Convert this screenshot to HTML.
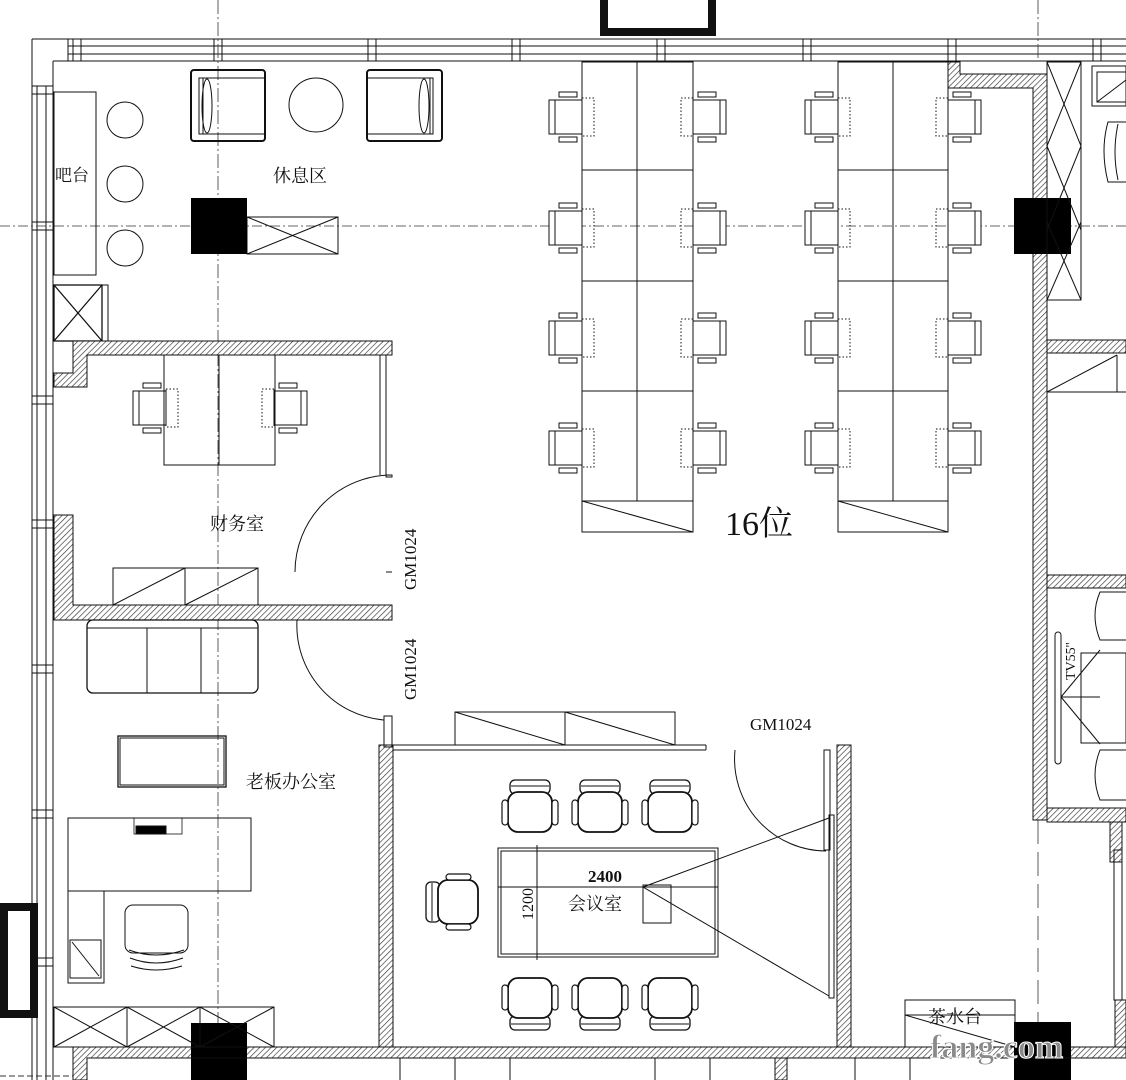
<!DOCTYPE html>
<html><head><meta charset="utf-8"><style>
html,body{margin:0;padding:0;background:#fff;}
svg{display:block;}
text{font-family:"Liberation Serif","Noto Serif CJK SC","Noto Sans CJK SC",serif;fill:#111;}
</style></head><body>
<svg width="1126" height="1080" viewBox="0 0 1126 1080" xmlns="http://www.w3.org/2000/svg">
<defs>
<pattern id="h" width="4" height="4" patternUnits="userSpaceOnUse" patternTransform="rotate(45)">
<rect width="4" height="4" fill="#fff"/><line x1="0" y1="0" x2="0" y2="4" stroke="#333" stroke-width="1.3"/>
</pattern>
<g id="chL">
<rect x="0" y="8" width="6" height="34" fill="#fff" stroke="#111" stroke-width="1"/>
<rect x="6" y="8" width="27" height="34" fill="#fff" stroke="#111" stroke-width="1"/>
<rect x="10" y="0" width="18" height="5" fill="#fff" stroke="#111"/>
<rect x="10" y="45" width="18" height="5" fill="#fff" stroke="#111"/>
<rect x="33" y="6" width="12" height="38" fill="none" stroke="#111" stroke-dasharray="1.5 2"/>
</g>
<g id="mc">
<rect x="8" y="0" width="40" height="14" rx="5" fill="#fff" stroke="#111" stroke-width="1.3"/>
<line x1="9" y1="6" x2="47" y2="6" stroke="#111"/>
<rect x="6" y="12" width="44" height="40" rx="10" fill="#fff" stroke="#111" stroke-width="1.8"/>
<rect x="0" y="20" width="6" height="25" rx="3" fill="#fff" stroke="#111" stroke-width="1.2"/>
<rect x="50" y="20" width="6" height="25" rx="3" fill="#fff" stroke="#111" stroke-width="1.2"/>
</g>
</defs>
<g fill="none" stroke="#111" stroke-width="1">
<rect x="604" y="-6" width="108" height="38" stroke-width="8"/>
<rect x="4" y="907" width="30" height="107" stroke-width="8"/>
<line x1="32" y1="39" x2="1126" y2="39"/><line x1="68" y1="46" x2="1126" y2="46"/>
<line x1="68" y1="54" x2="1126" y2="54"/><line x1="53" y1="61" x2="1126" y2="61"/>
<line x1="68" y1="39" x2="68" y2="61"/>
<g stroke-width="1">
<rect x="73" y="39" width="8" height="22"/><rect x="214" y="39" width="8" height="22"/>
<rect x="368" y="39" width="8" height="22"/><rect x="512" y="39" width="8" height="22"/>
<rect x="657" y="39" width="8" height="22"/><rect x="803" y="39" width="8" height="22"/>
<rect x="948" y="39" width="8" height="22"/><rect x="1093" y="39" width="8" height="22"/>
</g>
<line x1="32" y1="39" x2="32" y2="1080"/><line x1="37" y1="86" x2="37" y2="1080"/>
<line x1="46" y1="86" x2="46" y2="1080"/><line x1="53" y1="61" x2="53" y2="1080"/>
<line x1="32" y1="86" x2="53" y2="86"/><line x1="32" y1="94" x2="53" y2="94"/>
<line x1="32" y1="222" x2="53" y2="222"/><line x1="32" y1="230" x2="53" y2="230"/>
<line x1="32" y1="396" x2="53" y2="396"/><line x1="32" y1="404" x2="53" y2="404"/>
<line x1="32" y1="520" x2="53" y2="520"/><line x1="32" y1="528" x2="53" y2="528"/>
<line x1="32" y1="665" x2="53" y2="665"/><line x1="32" y1="673" x2="53" y2="673"/>
<line x1="32" y1="810" x2="53" y2="810"/><line x1="32" y1="818" x2="53" y2="818"/>
<line x1="32" y1="958" x2="53" y2="958"/><line x1="32" y1="966" x2="53" y2="966"/>
<line x1="0" y1="226" x2="1126" y2="226" stroke="#333" stroke-dasharray="10 3 2 3" stroke-width="0.8"/>
<line x1="218" y1="0" x2="218" y2="1080" stroke="#333" stroke-dasharray="14 3 2 3" stroke-width="0.8"/>
<line x1="1038" y1="0" x2="1038" y2="60" stroke="#333" stroke-dasharray="14 3 2 3" stroke-width="0.8"/>
<line x1="1038" y1="820" x2="1038" y2="1040" stroke="#333" stroke-dasharray="24 8" stroke-width="0.8"/>
<line x1="0" y1="1076" x2="80" y2="1076" stroke="#333" stroke-dasharray="6 3"/>
<rect x="54" y="92" width="42" height="183"/>
<circle cx="125" cy="120" r="18"/><circle cx="125" cy="184" r="18"/><circle cx="125" cy="248" r="18"/>
<rect x="54" y="285" width="48" height="56" stroke-width="1.3"/><line x1="54" y1="285" x2="102" y2="341" stroke-width="1.3"/><line x1="102" y1="285" x2="54" y2="341" stroke-width="1.3"/>
<rect x="102" y="285" width="6" height="56"/>
<rect x="191" y="70" width="74" height="71" rx="3" stroke-width="2"/><rect x="199" y="78" width="66" height="56"/><ellipse cx="207" cy="106" rx="5" ry="27"/><line x1="203" y1="78" x2="203" y2="134"/>
<rect x="367" y="70" width="75" height="71" rx="3" stroke-width="2"/><rect x="367" y="78" width="66" height="56"/><ellipse cx="424" cy="106" rx="5" ry="27"/><line x1="430" y1="78" x2="430" y2="134"/>
<circle cx="316" cy="105" r="27"/>
<rect x="247" y="217" width="91" height="37"/><line x1="247" y1="217" x2="338" y2="254"/><line x1="338" y1="217" x2="247" y2="254"/>
<g>
<rect x="582" y="62" width="111" height="439"/><line x1="637" y1="62" x2="637" y2="501"/>
<line x1="582" y1="170" x2="693" y2="170"/><line x1="582" y1="281" x2="693" y2="281"/><line x1="582" y1="391" x2="693" y2="391"/>
<rect x="582" y="501" width="111" height="31"/><line x1="582" y1="501" x2="693" y2="532"/>
<rect x="838" y="62" width="110" height="439"/><line x1="893" y1="62" x2="893" y2="501"/>
<line x1="838" y1="170" x2="948" y2="170"/><line x1="838" y1="281" x2="948" y2="281"/><line x1="838" y1="391" x2="948" y2="391"/>
<rect x="838" y="501" width="110" height="31"/><line x1="838" y1="501" x2="948" y2="532"/>
</g>
</g>
<g>
<g transform="translate(549,92)"><use href="#chL"/></g><g transform="translate(549,203)"><use href="#chL"/></g><g transform="translate(549,313)"><use href="#chL"/></g><g transform="translate(549,423)"><use href="#chL"/></g>
<g transform="translate(726,92) scale(-1,1)"><use href="#chL"/></g><g transform="translate(726,203) scale(-1,1)"><use href="#chL"/></g><g transform="translate(726,313) scale(-1,1)"><use href="#chL"/></g><g transform="translate(726,423) scale(-1,1)"><use href="#chL"/></g>
<g transform="translate(805,92)"><use href="#chL"/></g><g transform="translate(805,203)"><use href="#chL"/></g><g transform="translate(805,313)"><use href="#chL"/></g><g transform="translate(805,423)"><use href="#chL"/></g>
<g transform="translate(981,92) scale(-1,1)"><use href="#chL"/></g><g transform="translate(981,203) scale(-1,1)"><use href="#chL"/></g><g transform="translate(981,313) scale(-1,1)"><use href="#chL"/></g><g transform="translate(981,423) scale(-1,1)"><use href="#chL"/></g>
<g transform="translate(133,383)"><use href="#chL"/></g>
<g transform="translate(307,383) scale(-1,1)"><use href="#chL"/></g>
</g>
<g fill="url(#h)" stroke="#111" stroke-width="1">
<path d="M73 341 H392 V355 H87 V387 H54 V373 H73 Z"/>
<path d="M54 515 H73 V605 H392 V620 H73 H54 V530 Z" />
<rect x="379" y="745" width="14" height="302"/>
<rect x="837" y="745" width="14" height="302"/>
<path d="M73 1047 H1126 V1058 H87 V1080 H73 Z"/>
<path d="M948 62 H960 V74 H1047 V820 H1033 V88 H948 Z"/>
<rect x="1047" y="340" width="79" height="13"/>
<rect x="1047" y="575" width="79" height="13"/>
<rect x="1047" y="808" width="79" height="14"/>
<rect x="1110" y="822" width="12" height="40"/>
<rect x="1115" y="1000" width="11" height="47"/>
<rect x="775" y="1058" width="12" height="22"/>
</g>
<g fill="#000">
<rect x="191" y="198" width="56" height="56"/>
<rect x="1014" y="198" width="57" height="56"/>
<rect x="191" y="1023" width="56" height="57"/>
<rect x="1014" y="1022" width="57" height="58"/>
</g>
<g fill="none" stroke="#111" stroke-width="1">
<line x1="380" y1="355" x2="380" y2="475"/><line x1="386" y1="355" x2="386" y2="475"/>
<rect x="164" y="355" width="111" height="110"/><line x1="219" y1="355" x2="219" y2="465"/>
<rect x="386" y="475" width="6" height="2"/>
<path d="M392 475 A97 97 0 0 0 295 572"/><line x1="386" y1="572" x2="392" y2="572"/>
<rect x="113" y="568" width="145" height="37"/><line x1="113" y1="605" x2="185" y2="568"/><line x1="185" y1="605" x2="258" y2="568"/><line x1="185" y1="568" x2="185" y2="605"/>
<rect x="87" y="620" width="171" height="73" rx="6" stroke-width="1.3"/>
<line x1="147" y1="628" x2="147" y2="693"/><line x1="201" y1="628" x2="201" y2="693"/><line x1="87" y1="628" x2="258" y2="628"/>
<path d="M297 620 A95 95 0 0 0 384 720"/><rect x="384" y="716" width="8" height="31"/>
<rect x="118" y="736" width="108" height="51" stroke-width="1.3"/><rect x="120" y="738" width="104" height="47"/>
<rect x="68" y="818" width="183" height="73"/><rect x="68" y="891" width="36" height="92"/><rect x="70" y="940" width="31" height="38"/><line x1="72" y1="942" x2="99" y2="976"/>
<rect x="134" y="818" width="48" height="16" stroke-width="0.8"/><rect x="136" y="826" width="30" height="8" fill="#000"/>
<rect x="125" y="905" width="63" height="48" rx="8"/><path d="M129 950 Q156 960 184 950 M130 958 Q156 968 183 958 M131 966 Q156 974 182 966"/>
<rect x="54" y="1007" width="220" height="40"/><line x1="127" y1="1007" x2="127" y2="1047"/><line x1="200" y1="1007" x2="200" y2="1047"/>
<line x1="54" y1="1007" x2="127" y2="1047"/><line x1="127" y1="1007" x2="54" y2="1047"/><line x1="127" y1="1007" x2="200" y2="1047"/><line x1="200" y1="1007" x2="127" y2="1047"/><line x1="200" y1="1007" x2="274" y2="1047"/><line x1="274" y1="1007" x2="200" y2="1047"/>
<line x1="393" y1="745" x2="706" y2="745"/><line x1="393" y1="750" x2="706" y2="750"/><line x1="706" y1="745" x2="706" y2="750"/>
<rect x="455" y="712" width="220" height="33"/><line x1="565" y1="712" x2="565" y2="745"/><line x1="455" y1="712" x2="565" y2="745"/><line x1="565" y1="712" x2="675" y2="745"/>
<path d="M735 750 A92 92 0 0 0 826 851"/><rect x="824" y="750" width="6" height="100"/>
<rect x="829" y="815" width="5" height="183"/>
<line x1="643" y1="887" x2="829" y2="818"/><line x1="643" y1="887" x2="829" y2="996"/>
<rect x="498" y="848" width="220" height="109"/><rect x="501" y="851" width="214" height="103"/>
<rect x="643" y="885" width="28" height="38"/>
<line x1="498" y1="887" x2="718" y2="887"/><line x1="537" y1="845" x2="537" y2="960"/>
<line x1="87" y1="1058" x2="1126" y2="1058"/>
<line x1="400" y1="1058" x2="400" y2="1080"/><line x1="455" y1="1058" x2="455" y2="1080"/><line x1="510" y1="1058" x2="510" y2="1080"/>
<line x1="655" y1="1058" x2="655" y2="1080"/><line x1="710" y1="1058" x2="710" y2="1080"/><line x1="855" y1="1058" x2="855" y2="1080"/><line x1="910" y1="1058" x2="910" y2="1080"/>
<rect x="905" y="1000" width="110" height="47"/><line x1="905" y1="1015" x2="1015" y2="1015"/><line x1="905" y1="1015" x2="1015" y2="1047"/>
<rect x="1047" y="62" width="34" height="238"/><line x1="1047" y1="62" x2="1081" y2="146"/><line x1="1081" y1="62" x2="1047" y2="146"/><line x1="1047" y1="146" x2="1081" y2="230"/><line x1="1081" y1="146" x2="1047" y2="230"/><line x1="1047" y1="222" x2="1081" y2="300"/><line x1="1081" y1="222" x2="1047" y2="300"/>
<rect x="1092" y="66" width="34" height="40"/><rect x="1097" y="72" width="29" height="30"/><line x1="1097" y1="102" x2="1126" y2="80"/>
<path d="M1126 122 H1108 Q1100 150 1108 182 H1126"/><path d="M1118 124 Q1112 152 1118 180"/>
<line x1="1047" y1="392" x2="1126" y2="392"/><line x1="1047" y1="392" x2="1117" y2="355"/><line x1="1117" y1="355" x2="1117" y2="392"/>
<path d="M1126 592 H1100 Q1090 615 1100 640 H1126"/><path d="M1126 750 H1100 Q1090 775 1100 800 H1126"/>
<rect x="1055" y="632" width="6" height="132" rx="3"/>
<rect x="1081" y="653" width="45" height="90"/><line x1="1061" y1="697" x2="1100" y2="650"/><line x1="1061" y1="697" x2="1100" y2="744"/><line x1="1061" y1="697" x2="1100" y2="697"/>
<rect x="1114" y="850" width="8" height="150"/>
</g>
<g transform="translate(502,780)"><use href="#mc"/></g>
<g transform="translate(572,780)"><use href="#mc"/></g>
<g transform="translate(642,780)"><use href="#mc"/></g>
<g transform="translate(502,1030) scale(1,-1)"><use href="#mc"/></g>
<g transform="translate(572,1030) scale(1,-1)"><use href="#mc"/></g>
<g transform="translate(642,1030) scale(1,-1)"><use href="#mc"/></g>
<g transform="translate(426,930) rotate(-90)"><use href="#mc"/></g>
<text x="55" y="181" font-size="17">吧台</text>
<text x="273" y="182" font-size="18">休息区</text>
<text x="210" y="530" font-size="18">财务室</text>
<text x="246" y="788" font-size="18">老板办公室</text>
<text x="725" y="535" font-size="34">16位</text>
<text x="750" y="730" font-size="17">GM1024</text>
<text transform="translate(416,590) rotate(-90)" font-size="17">GM1024</text>
<text transform="translate(416,700) rotate(-90)" font-size="17">GM1024</text>
<text x="588" y="882" font-size="17" font-family="Liberation Sans, sans-serif" font-weight="bold">2400</text>
<text x="568" y="910" font-size="18">会议室</text>
<text transform="translate(533,920) rotate(-90)" font-size="16" font-family="Liberation Sans, sans-serif">1200</text>
<text transform="translate(1075,680) rotate(-90)" font-size="14" font-family="Liberation Sans, sans-serif">TV55''</text>
<text x="928" y="1023" font-size="18">茶水台</text>
<text x="930" y="1058" font-size="34" font-family="Liberation Sans, sans-serif" font-weight="bold" style="fill:#8a8a8a;stroke:#fff;stroke-width:1">fang.com</text>
</svg>
</body></html>
